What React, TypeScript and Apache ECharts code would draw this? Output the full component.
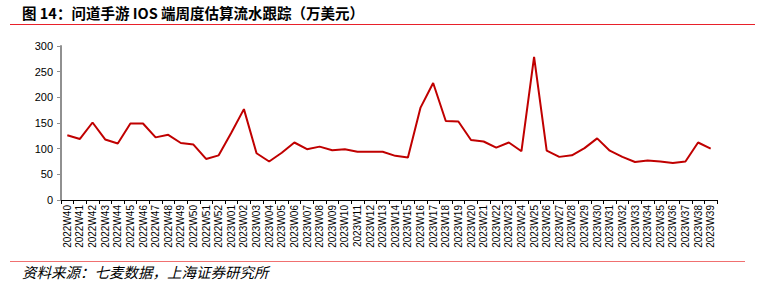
import React, { useEffect, useRef } from "react";
import * as echarts from "echarts";

const weeks2022: string[] = ["2022W40","2022W41","2022W42","2022W43","2022W44","2022W45","2022W46","2022W47","2022W48","2022W49","2022W50","2022W51","2022W52"];
const weeks2023: string[] = ["2023W01","2023W02","2023W03","2023W04","2023W05","2023W06","2023W07","2023W08","2023W09","2023W10","2023W11","2023W12","2023W13","2023W14","2023W15","2023W16","2023W17","2023W18","2023W19","2023W20","2023W21","2023W22","2023W23","2023W24","2023W25","2023W26","2023W27","2023W28","2023W29","2023W30","2023W31","2023W32","2023W33","2023W34","2023W35","2023W36","2023W37","2023W38","2023W39"];
const categories: string[] = [...weeks2022, ...weeks2023];

const revenue2022: number[] = [126, 119, 151, 118, 110, 149, 149, 122, 127, 111, 108, 80, 87];
const revenue2023: number[] = [131, 177, 91, 75, 92, 112, 99, 104, 97, 99, 94, 94, 94, 86, 83, 180, 228, 154, 153, 117, 114, 102, 112, 95, 279, 96, 84, 87, 101, 120, 96, 84, 74, 77, 75, 72, 75, 112, 100];
const revenue: number[] = [...revenue2022, ...revenue2023];

const yTicks: number[] = [0, 50, 100, 150, 200, 250, 300];

const titleText = "图 14：问道手游 IOS 端周度估算流水跟踪（万美元）";
const sourceText = "资料来源：七麦数据，上海证券研究所";

export default function App() {
  const ref = useRef<HTMLDivElement>(null);
  useEffect(() => {
    if (!ref.current) return;
    const chart = echarts.init(ref.current, null, { renderer: "svg" });
    chart.setOption({
      animation: false,
      backgroundColor: "#ffffff",
      textStyle: { fontFamily: "Liberation Sans, Arial, sans-serif" },
      graphic: [
        {
          type: "text",
          left: 22,
          top: 5,
          style: {
            text: titleText,
            fontFamily: "Noto Sans CJK SC",
            fontWeight: "bold",
            fontSize: 14.5,
            fill: "#000000",
          },
        },
        {
          type: "line",
          shape: { x1: 10, y1: 24.5, x2: 755, y2: 24.5 },
          style: { stroke: "#e8202a", lineWidth: 1 },
        },
        {
          type: "line",
          shape: { x1: 10, y1: 261.5, x2: 745, y2: 261.5 },
          style: { stroke: "#f07070", lineWidth: 1 },
        },
        {
          type: "text",
          left: 22,
          top: 264,
          style: {
            text: sourceText,
            fontFamily: "Noto Sans CJK SC",
            fontStyle: "italic",
            fontSize: 14.5,
            fill: "#000000",
          },
        },
      ],
      grid: { left: 61, right: 48, top: 46, bottom: 87, containLabel: false },
      xAxis: {
        type: "category",
        data: categories,
        boundaryGap: true,
        axisLine: { lineStyle: { color: "#000000", width: 1 } },
        axisTick: { show: true, length: 4, lineStyle: { color: "#000000" } },
        axisLabel: {
          rotate: 90,
          interval: 0,
          fontSize: 10,
          color: "#000000",
          margin: 5,
          fontFamily: "Liberation Sans, Arial, sans-serif",
        },
        splitLine: { show: false },
      },
      yAxis: {
        type: "value",
        min: 0,
        max: 300,
        interval: 50,
        axisLine: { show: true, lineStyle: { color: "#909090", width: 2 } },
        axisTick: { show: true, length: 4, lineStyle: { color: "#909090" } },
        axisLabel: {
          fontSize: 11,
          color: "#000000",
          margin: 8,
          fontFamily: "Liberation Sans, Arial, sans-serif",
          formatter: (v: number) => (yTicks.includes(v) ? String(v) : ""),
        },
        splitLine: { show: false },
      },
      series: [
        {
          type: "line",
          data: revenue,
          symbol: "none",
          lineStyle: { color: "#c00000", width: 2 },
          itemStyle: { color: "#c00000" },
        },
      ],
    });
    return () => chart.dispose();
  }, []);
  return (
    <div
      ref={ref}
      style={{ position: "absolute", left: 0, top: 0, width: 765, height: 287 }}
    />
  );
}
